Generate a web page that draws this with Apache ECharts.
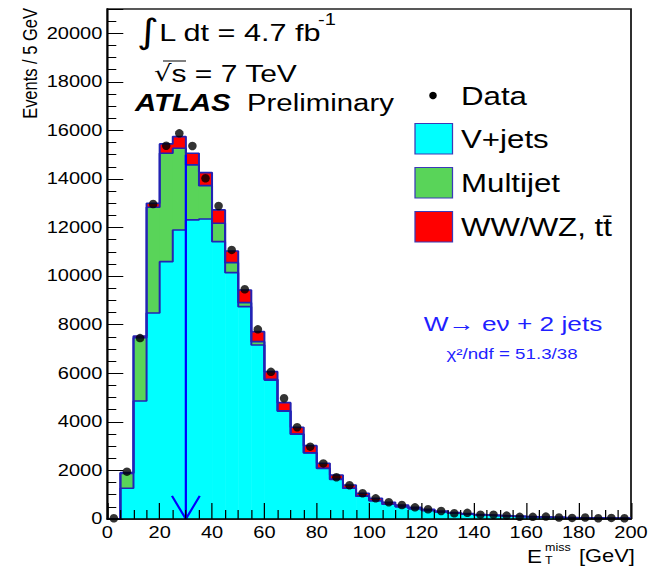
<!DOCTYPE html>
<html><head><meta charset="utf-8">
<script src="https://cdn.jsdelivr.net/npm/echarts@6/dist/echarts.min.js"></script>
<style>
html,body{margin:0;padding:0;background:#fff;overflow:hidden;}
#main{width:524.8px;height:568px;transform:scaleX(1.25);transform-origin:0 0;}
</style>
</head><body><div id="main"></div>
<script>
// Bin edges in GeV (5 GeV bins)
const binEdges = [0,5,10,15,20,25,30,35,40,45,50,55,60,65,70,75,80,85,90,95,100,
  105,110,115,120,125,130,135,140,145,150,155,160,165,170,175,180,185,190,195,200];
// Data (events / 5 GeV)
const dataCounts = [30,1950,7450,12970,15370,15880,15360,14030,12890,11080,9460,7810,6060,4970,3780,2980,2290,1720,1390,1060,
  850,690,575,480,400,330,235,255,180,175,140,90,90,100,60,45,60,30,45,30];
// Stacked MC components
const vJets = [0,1264,4860,8484,10597,11903,12315,12356,11421,10144,8744,7166,5720,4440,3490,2720,2080,1630,1264,940,
  750,610,510,425,355,290,235,195,165,137,115,97,81,69,58,50,43,37,31,27];
const multijet = [0,616,2607,4354,4465,3365,2265,1371,758,412,164,136,34,20,10,10,8,5,0,0,
  0,0,0,0,0,0,0,0,0,0,0,0,0,0,0,0,0,0,0,0];
const dibosonTop = [0,30,70,164,383,478,482,536,548,482,524,412,313,330,277,290,206,177,136,120,
  100,80,65,55,45,40,30,25,20,18,15,13,11,9,8,6,5,4,4,3];
// Cut arrow annotation (GeV, events)
const cutValue = 30;
const cutArrowTop = 15000;
const arrowHead = {halfWidth: 5.3, height: 950};

const SX = 1.25;
const FONT = '"Liberation Sans", Arial, Helvetica, sans-serif';
const chart = echarts.init(document.getElementById('main'), null, {renderer: 'svg', width: 524.8, height: 568});

const cum1 = vJets.slice();
const cum2 = vJets.map((v, i) => v + multijet[i]);
const cum3 = cum2.map((v, i) => v + dibosonTop[i]);

function rectData(base, top) {
  return top.map((t, i) => [binEdges[i], binEdges[i + 1], base[i], t]);
}
function rectSeries(name, data, color) {
  return {
    type: 'custom', name: name, data: data, encode: {x: [0, 1], y: [2, 3]}, z: 2, animation: false,
    renderItem: function (params, api) {
      const p0 = api.coord([api.value(0), api.value(3)]);
      const p1 = api.coord([api.value(1), api.value(2)]);
      return {type: 'rect', shape: {x: p0[0], y: p0[1], width: p1[0] - p0[0] + 0.4, height: p1[1] - p0[1]},
        style: {fill: color}};
    }
  };
}
function outline(cum) {
  const pts = cum.map((v, i) => [binEdges[i], v]);
  pts.push([binEdges[binEdges.length - 1], cum[cum.length - 1]]);
  return {type: 'line', step: 'end', data: pts, symbol: 'none', z: 3, silent: true, animation: false,
    lineStyle: {color: '#2323b4', width: 1.6}};
}
const zeros = vJets.map(() => 0);

const series = [
  rectSeries('V+jets', rectData(zeros, cum1), '#00ffff'),
  rectSeries('Multijet', rectData(cum1, cum2), '#59d459'),
  rectSeries('WW/WZ, tt', rectData(cum2, cum3), '#ff0000'),
  outline(cum3), outline(cum2), outline(cum1),
  {type: 'line', data: [[cutValue, cutArrowTop], [cutValue, 0]], symbol: 'none', z: 4, animation: false,
    lineStyle: {color: '#0000ff', width: 1.8}},
  {type: 'line', data: [[cutValue - arrowHead.halfWidth, arrowHead.height], [cutValue, 0], [cutValue + arrowHead.halfWidth, arrowHead.height]],
    symbol: 'none', z: 4, animation: false, lineStyle: {color: '#0000ff', width: 1.8}},
  {type: 'scatter', name: 'Data', data: dataCounts.map((v, i) => [(binEdges[i] + binEdges[i + 1]) / 2, v]),
    symbol: 'circle', symbolSize: [8.5 / SX, 8.5], itemStyle: {color: '#000'}, z: 6, clip: false, animation: false}
];

const txt = (x, y, text, size, extra) => Object.assign({type: 'text', x: x / SX, y: y, z: 50,
  style: Object.assign({text: text, fontSize: size, fontFamily: FONT, fill: '#000', align: 'left', verticalAlign: 'middle'}, extra || {})});

const graphic = [
  // y-axis title
  {type: 'text', x: 30 / SX, y: 8, rotation: Math.PI / 2, z: 50,
    style: {text: 'Events / 5 GeV', fontSize: 16.5, fontFamily: FONT, fill: '#000', align: 'right', verticalAlign: 'middle'}},
  // x-axis title
  txt(527, 556.5, 'E', 18),
  txt(545, 554, 'miss\nT', 10, {lineHeight: 13.5}),
  txt(579, 556, '[GeV]', 17.5),
  // luminosity
  txt(137, 31, '{i|\u222b}{t|L dt = 4.7 fb}', 24.5, {rich: {
    i: {fontSize: 34, fontFamily: '"DejaVu Sans", sans-serif', verticalAlign: 'middle'},
    t: {fontSize: 24.5, fontFamily: FONT, verticalAlign: 'middle', padding: [3, 0, 0, 0]}}}),
  txt(318, 19.5, '-1', 16),
  txt(154, 73.5, '{r|\u221a}{t|s = 7 TeV}', 24, {rich: {
    r: {fontSize: 22, fontFamily: '"DejaVu Sans", sans-serif', verticalAlign: 'middle'},
    t: {fontSize: 24, fontFamily: FONT, verticalAlign: 'middle'}}}),
  {type: 'line', z: 50, shape: {x1: 163 / SX, y1: 61, x2: 186 / SX, y2: 61}, style: {stroke: '#000', lineWidth: 1}},
  txt(135, 103.5, 'ATLAS', 23.5, {fontWeight: 'bold', fontStyle: 'italic'}),
  txt(247, 103.5, 'Preliminary', 23.5),
  // legend
  {type: 'circle', x: 433 / SX, y: 95.5, scaleX: 1 / SX, z: 50, shape: {cx: 0, cy: 0, r: 3.8}, style: {fill: '#000'}},
  txt(461, 96.5, 'Data', 25),
  {type: 'rect', z: 50, shape: {x: 415 / SX, y: 123.5, width: 37.5 / SX, height: 30.5}, style: {fill: '#00ffff', stroke: '#3a3ab8', lineWidth: 1}},
  txt(461, 139, 'V+jets', 25),
  {type: 'rect', z: 50, shape: {x: 415 / SX, y: 167.5, width: 37.5 / SX, height: 30.5}, style: {fill: '#59d459', stroke: '#3a3ab8', lineWidth: 1}},
  txt(461, 183, 'Multijet', 25),
  {type: 'rect', z: 50, shape: {x: 415 / SX, y: 211.5, width: 37.5 / SX, height: 30.5}, style: {fill: '#ff0000', stroke: '#3a3ab8', lineWidth: 1}},
  txt(461, 227.5, 'WW/WZ, tt\u0304', 25),
  // channel label
  txt(513, 323, 'W\u2192 e\u03bd + 2 jets', 21, {fill: '#1f1fff', align: 'center'}),
  txt(512, 354, '\u03c7\u00b2/ndf = 51.3/38', 15, {fill: '#1f1fff', align: 'center'})
];

chart.setOption({
  animation: false,
  backgroundColor: '#fff',
  grid: {left: 107.3 / SX, right: 524.8 - 631 / SX, top: 9, bottom: 49, show: true, borderColor: '#222', borderWidth: 1.5, backgroundColor: 'transparent'},
  xAxis: {type: 'value', min: 0, max: 200, interval: 20, z: 10,
    axisLine: {show: true, onZero: false, lineStyle: {color: '#000', width: 1.5}},
    axisTick: {show: true, inside: true, length: 16, lineStyle: {color: '#000', width: 1}},
    minorTick: {show: true, splitNumber: 4, length: 9, lineStyle: {color: '#000', width: 1}},
    axisLabel: {fontSize: 16, color: '#000', fontFamily: FONT, margin: 6},
    splitLine: {show: false}, minorSplitLine: {show: false}},
  yAxis: [
    {type: 'value', min: 0, max: 21000, interval: 2000, z: 10, position: 'left',
      axisLine: {show: true, onZero: false, lineStyle: {color: '#000', width: 1.5}},
      axisTick: {show: true, inside: true, length: 16 / SX, lineStyle: {color: '#000', width: 1}},
      axisLabel: {fontSize: 16, color: '#000', fontFamily: FONT, margin: 4, formatter: v => (v % 2000 === 0 ? String(v) : '')},
      splitLine: {show: false}},
    {type: 'value', min: 0, max: 21000, interval: 500, z: 10, position: 'left', offset: 0,
      axisLine: {show: false},
      axisTick: {show: true, inside: true, length: 9 / SX, lineStyle: {color: '#000', width: 1}},
      axisLabel: {show: false}, splitLine: {show: false}}
  ],
  series: series,
  graphic: graphic
});
</script>
</body></html>
